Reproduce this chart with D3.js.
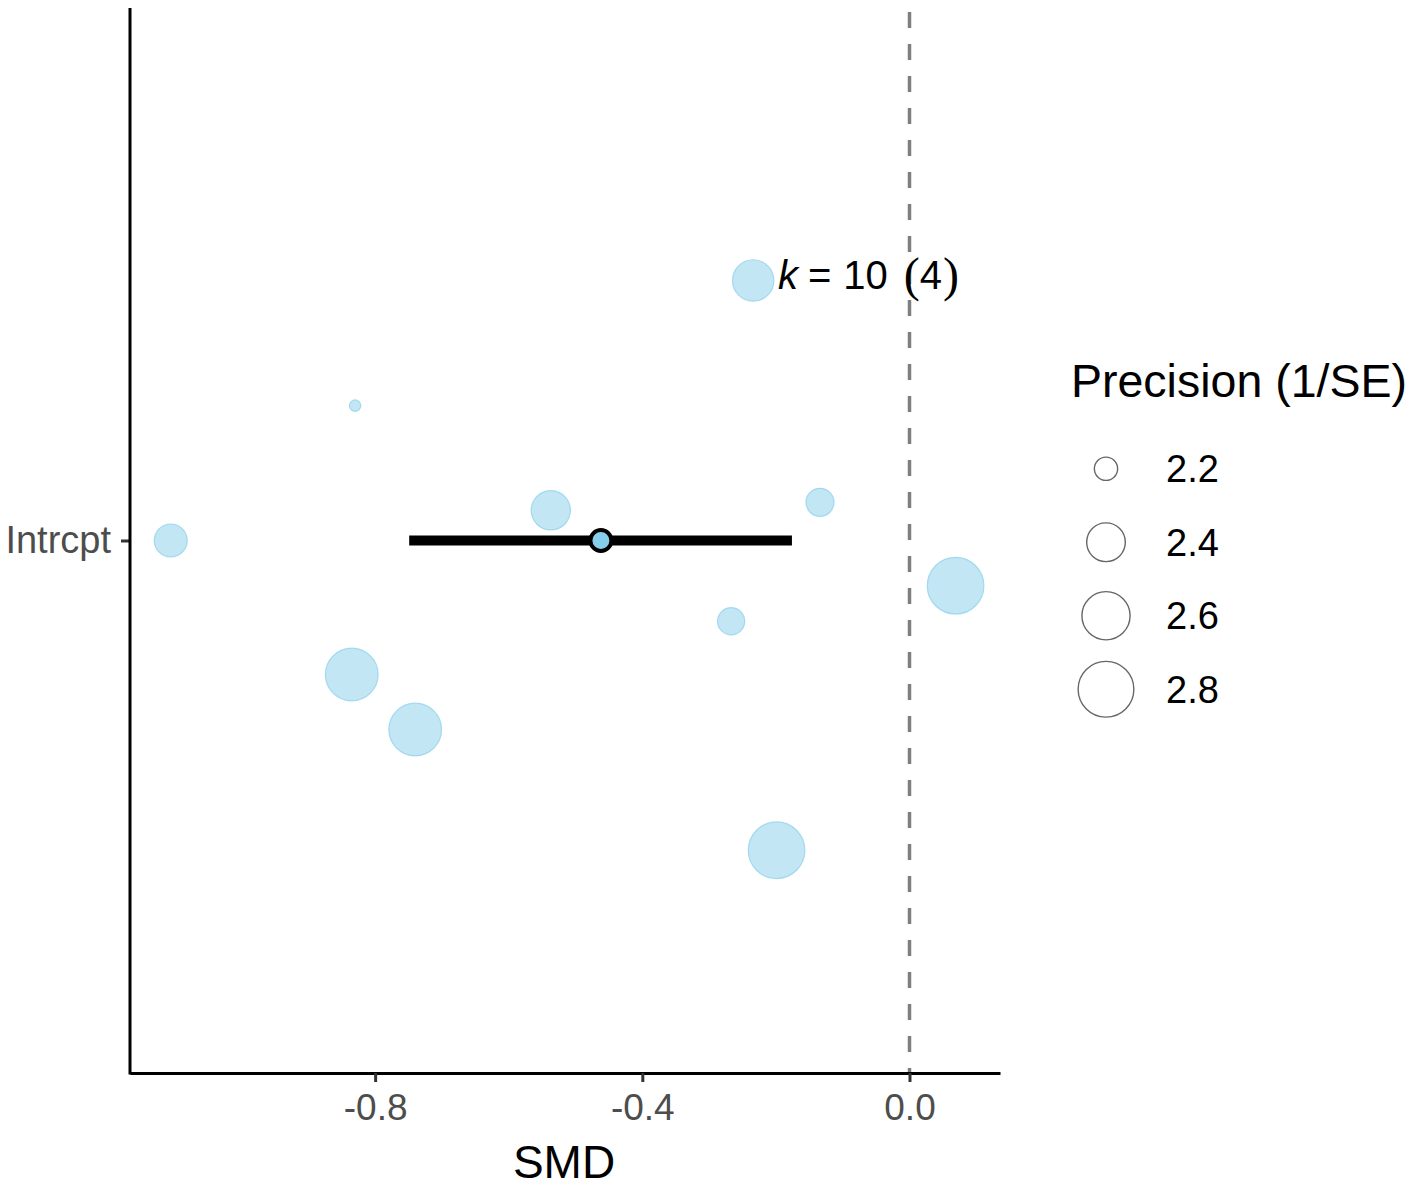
<!DOCTYPE html>
<html>
<head>
<meta charset="utf-8">
<script src="https://cdn.jsdelivr.net/npm/d3@7"></script>
<style>
  html, body { margin: 0; padding: 0; background: #fff; }
  svg { display: block; font-family: "Liberation Sans", Arial, sans-serif; }
</style>
</head>
<body>
<svg id="chart" width="1418" height="1187"></svg>
<script>
// ---- data ----
const categories = ["Intrcpt"];
const smd        = [-0.234, -0.830, -1.106, -0.537, -0.134, 0.069, -0.267, -0.835, -0.740, -0.199];
const precision  = [2.44, 2.15, 2.30, 2.40, 2.24, 2.81, 2.23, 2.70, 2.70, 2.81];
const jitterY    = [0.293, 0.152, 0.000, 0.034, 0.043, -0.051, -0.091, -0.151, -0.213, -0.349];
const summaryEst = [-0.462];
const summaryLo  = [-0.749];
const summaryHi  = [-0.176];
const xTicks     = [-0.8, -0.4, 0.0];
const legendVals = [2.2, 2.4, 2.6, 2.8];
const kLabel     = ["k", "=", "10", "(", "4", ")"];

// ---- layout ----
const svg = d3.select("#chart");
const plot = { left: 130, right: 1000, top: 8, bottom: 1073 };

const x = d3.scaleLinear().domain([-1.167, 0.1355]).range([plot.left, plot.right]);
const yCat = d3.scalePoint().domain(categories).range([540.5, 540.5]);
const yOff = d3.scaleLinear().domain([-0.6, 0.6]).range([plot.bottom, plot.top]);
const yPos = (cat, off) => yOff(off) - yOff(0) + yCat(cat);

// ggplot-like area size scale
const sizeT = d3.scaleLinear().domain([2.15, 2.82]).range([0, 1]).clamp(true);
const sizeR = d3.scaleSqrt().domain([0, 1]).range([5.7, 28.5]);
const r = v => sizeR(sizeT(v));

// zero reference line
svg.append("line")
  .attr("x1", x(0)).attr("x2", x(0))
  .attr("y1", plot.top + 4).attr("y2", plot.bottom)
  .attr("stroke", "#7f7f7f").attr("stroke-width", 3.5)
  .attr("stroke-dasharray", "16,16");

// study points
const pts = smd.map((v, i) => ({ v, p: precision[i], j: jitterY[i] }));
svg.append("g").selectAll("circle").data(pts).join("circle")
  .attr("cx", d => x(d.v))
  .attr("cy", d => yPos(categories[0], d.j))
  .attr("r", d => r(d.p))
  .attr("fill", "skyblue").attr("fill-opacity", 0.5)
  .attr("stroke", "skyblue").attr("stroke-opacity", 0.7).attr("stroke-width", 1.2);

// summary CI + point
svg.append("line")
  .attr("x1", x(summaryLo[0])).attr("x2", x(summaryHi[0]))
  .attr("y1", yCat(categories[0])).attr("y2", yCat(categories[0]))
  .attr("stroke", "#000").attr("stroke-width", 10);
svg.append("circle")
  .attr("cx", x(summaryEst[0])).attr("cy", yCat(categories[0]))
  .attr("r", 10.5)
  .attr("fill", "skyblue").attr("stroke", "#000").attr("stroke-width", 4);

// k label
const kt = svg.append("text")
  .attr("x", x(-0.2) + 2).attr("y", yPos(categories[0], 0.293) + 9)
  .attr("font-size", 40).attr("fill", "#000");
kt.append("tspan").attr("font-style", "italic").text(kLabel[0]);
kt.append("tspan").attr("dx", 10).text(kLabel[1]);
kt.append("tspan").attr("dx", 12).text(kLabel[2]);
kt.append("tspan").attr("dx", 16).attr("font-family", "'Liberation Serif', 'DejaVu Serif', serif")
  .attr("font-size", 48).attr("dy", 2).text(kLabel[3]);
kt.append("tspan").attr("dy", -2).text(kLabel[4]);
kt.append("tspan").attr("dx", 1).attr("dy", 2).attr("font-family", "'Liberation Serif', 'DejaVu Serif', serif")
  .attr("font-size", 48).text(kLabel[5]);

// axes
const xAxis = d3.axisBottom(x).tickValues(xTicks).tickFormat(d3.format(".1f"))
  .tickSize(9).tickSizeOuter(0).tickPadding(12);
const gx = svg.append("g").attr("transform", `translate(0,${plot.bottom})`).call(xAxis);
gx.select(".domain").attr("stroke", "#000").attr("stroke-width", 3);
gx.selectAll(".tick line").attr("stroke", "#333").attr("stroke-width", 3);
gx.selectAll(".tick text").attr("font-size", 37).attr("fill", "#4d4d4d")
  .attr("font-family", "'Liberation Sans', Arial, sans-serif").text(d => d3.format(".1f")(d).replace("−", "-"));

const yAxis = d3.axisLeft(yCat).tickSize(9).tickSizeOuter(0).tickPadding(10);
const gy = svg.append("g").attr("transform", `translate(${plot.left},0)`).call(yAxis);
gy.select(".domain").remove();
gy.append("line").attr("x1", 0).attr("x2", 0).attr("y1", plot.top).attr("y2", plot.bottom + 1.5)
  .attr("stroke", "#000").attr("stroke-width", 3);
gy.selectAll(".tick line").attr("stroke", "#333").attr("stroke-width", 3);
gy.selectAll(".tick text").attr("font-size", 38).attr("fill", "#4d4d4d")
  .attr("font-family", "'Liberation Sans', Arial, sans-serif");

// x title
svg.append("text").attr("x", (plot.left + plot.right) / 2 - 1).attr("y", 1178)
  .attr("text-anchor", "middle").attr("font-size", 46).attr("fill", "#000").text("SMD");

// legend
const lg = svg.append("g");
lg.append("text").attr("x", 1071).attr("y", 397).attr("font-size", 46.5).attr("fill", "#000")
  .text("Precision (1/SE)");
const ly = d3.scaleBand().domain(legendVals).range([432, 726]);
const items = lg.selectAll("g.item").data(legendVals).join("g").attr("class", "item")
  .attr("transform", d => `translate(0,${ly(d) + ly.bandwidth() / 2})`);
items.append("circle").attr("cx", 1106).attr("cy", 0).attr("r", d => r(d) - 0.3)
  .attr("fill", "none").attr("stroke", "#666").attr("stroke-width", 1.4);
items.append("text").attr("x", 1166).attr("y", 0).attr("dy", "0.36em")
  .attr("font-size", 38).attr("fill", "#000").text(d => d3.format(".1f")(d));
</script>
</body>
</html>
